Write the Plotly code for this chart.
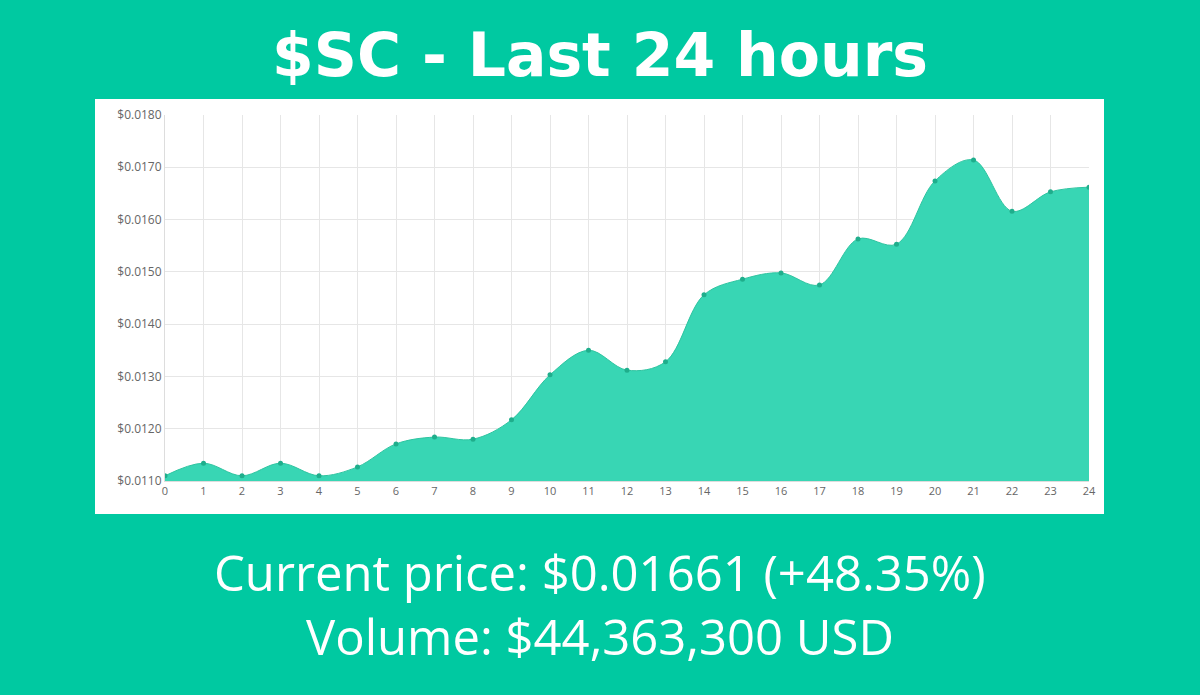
import plotly.graph_objects as go

hours = list(range(25))
prices = [0.01110, 0.01134, 0.01110, 0.01134, 0.01110, 0.01127, 0.01171, 0.01184, 0.01180,
          0.01217, 0.01303, 0.01350, 0.01312, 0.01328, 0.01456, 0.01486, 0.01498, 0.01475,
          0.01563, 0.01553, 0.01674, 0.01714, 0.01616, 0.01653, 0.01662]
y_ticks = [0.0110, 0.0120, 0.0130, 0.0140, 0.0150, 0.0160, 0.0170, 0.0180]
title = "$SC - Last 24 hours"
line1 = "Current price: $0.01661 (+48.35%)"
line2 = "Volume: $44,363,300 USD"

W, H = 1200, 695
L, R, T, B = 165, 1089, 115, 481
pw, ph = R - L, B - T

fig = go.Figure(go.Scatter(
    x=hours, y=prices, mode="lines+markers",
    line=dict(shape="spline", smoothing=1.0, color="#2ec4a0", width=1),
    fill="tozeroy", fillcolor="rgba(56,214,180,1)",
    marker=dict(size=5, color="#1fae8c"), hoverinfo="skip"))

fig.add_shape(type="rect", xref="paper", yref="paper", layer="below",
              x0=(95 - L) / pw, x1=(1104 - L) / pw, y0=(B - 514) / ph, y1=(B - 99) / ph,
              fillcolor="white", line=dict(width=0))

fig.add_annotation(text=f"<b>{title}</b>", xref="paper", yref="paper", showarrow=False,
                   x=(600 - L) / pw, y=(B - 55) / ph, xanchor="center", yanchor="middle",
                   font=dict(family="DejaVu Sans", size=60, color="white"))
for txt, yy in [(line1, 572), (line2, 636)]:
    fig.add_annotation(text=txt, xref="paper", yref="paper", showarrow=False,
                       x=(600 - L) / pw, y=(B - yy) / ph, xanchor="center", yanchor="middle",
                       font=dict(family="Open Sans", size=49, color="white"))

fig.update_layout(
    width=W, height=H, showlegend=False,
    margin=dict(l=L, r=W - R, t=T, b=H - B),
    paper_bgcolor="#00c9a1", plot_bgcolor="white",
    xaxis=dict(range=[0, 24], tickvals=hours, showgrid=True, gridcolor="#e6e6e6",
               zeroline=False, tickfont=dict(size=11, color="#666"), fixedrange=True,
               showline=True, linecolor="#ddd"),
    yaxis=dict(range=[0.0110, 0.0180], tickvals=y_ticks, tickformat="$.4f",
               showgrid=True, gridcolor="#e6e6e6", zeroline=False,
               tickfont=dict(size=12, color="#666"), fixedrange=True,
               showline=True, linecolor="#ddd"),
)
div = fig.to_html(full_html=False, include_plotlyjs=True, config={"displayModeBar": False})
html = ("<!DOCTYPE html><html><head><meta charset='utf-8'>"
        "<style>html,body{margin:0;padding:0;background:#00c9a1;overflow:hidden}</style>"
        "</head><body>" + div + "</body></html>")
with open("out.html", "w", encoding="utf-8") as f:
    f.write(html)
